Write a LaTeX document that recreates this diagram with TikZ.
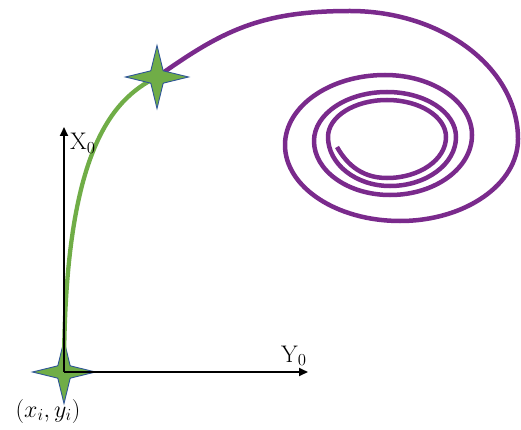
\RequirePackage{fix-cm}
\documentclass[tikz,border=0pt]{standalone}
\usetikzlibrary{arrows.meta,shapes.geometric}
\definecolor{spiralpurple}{RGB}{122,42,140}
\definecolor{pathgreen}{RGB}{112,173,71}
\definecolor{staredge}{RGB}{47,85,151}
\pgfdeclarelayer{bgA}
\pgfdeclarelayer{bgB}
\pgfsetlayers{bgA,bgB,main}
\tikzset{
  starmark/.style={star, star points=4, star point ratio=3.6, minimum size=63pt,
    inner sep=0pt, fill=pathgreen, draw=staredge, line width=0.9pt},
  axisline/.style={line width=2pt, -{Triangle[length=9pt,width=8pt]}},
  greenpath/.style={pathgreen, line width=4.3pt},
  purplepath/.style={spiralpurple, line width=4.5pt},
  lbl/.style={inner sep=0pt, font=\fontsize{24}{29}\selectfont}
}
\begin{document}
\begin{tikzpicture}[x=1pt,y=1pt]
\useasboundingbox (0,0) rectangle (521,-430);
\begin{pgfonlayer}{bgA}
\node[starmark] (s0) at (64,-372) {};
\end{pgfonlayer}
\node[starmark] (s1) at (157,-77) {};
\coordinate (xend) at (308,-372);
\coordinate (yend) at (64,-127);
\begin{pgfonlayer}{bgB}
\draw[greenpath] (s0.center) .. controls (64,-155) and (110,-100) .. (s1.center);
\draw[purplepath] (s1.center)
  .. controls (222,-31) and (260,-11) .. (350,-11)
  .. controls +(92.7,0) and +(0,70.7) .. (518,-139)
  .. controls +(0,-45.3) and +(65.1,0) .. (400,-221)
  .. controls +(-63.5,0) and +(0,-42) .. (285,-145)
  .. controls +(0,38.6) and +(-55.2,0) .. (385,-75)
  .. controls +(48,0) and +(0,33.1) .. (472,-135)
  .. controls +(0,-33.1) and +(45.3,0) .. (390,-195)
  .. controls +(-42,0) and +(0,-29.8) .. (314,-141)
  .. controls +(0,27) and +(-40.3,0) .. (387,-92)
  .. controls +(38.1,0) and +(0,24.8) .. (456,-137)
  .. controls +(0,-27) and +(36.4,0) .. (390,-186)
  .. controls +(-34.2,0) and +(0,-27) .. (328,-137)
  .. controls +(0,20.4) and +(-32.6,0) .. (387,-100)
  .. controls +(32.6,0) and +(0,20.4) .. (446,-137)
  .. controls +(0,-22.6) and +(32.6,0) .. (387,-178)
  .. controls +(-28,0) and +(8,-14) .. (337,-147);
\end{pgfonlayer}
\draw[axisline] (s0.center) -- (xend);
\draw[axisline] (s0.center) -- (yend);
\node[lbl, anchor=base west] (xlbl) at (70,-150) {$\mathrm{X}_0$};
\node[lbl, anchor=base west] (ylbl) at (281,-362) {$\mathrm{Y}_0$};
\node[lbl, anchor=base] (ptlbl) at (48,-417) {$(x_i,y_i)$};
\end{tikzpicture}
\end{document}
